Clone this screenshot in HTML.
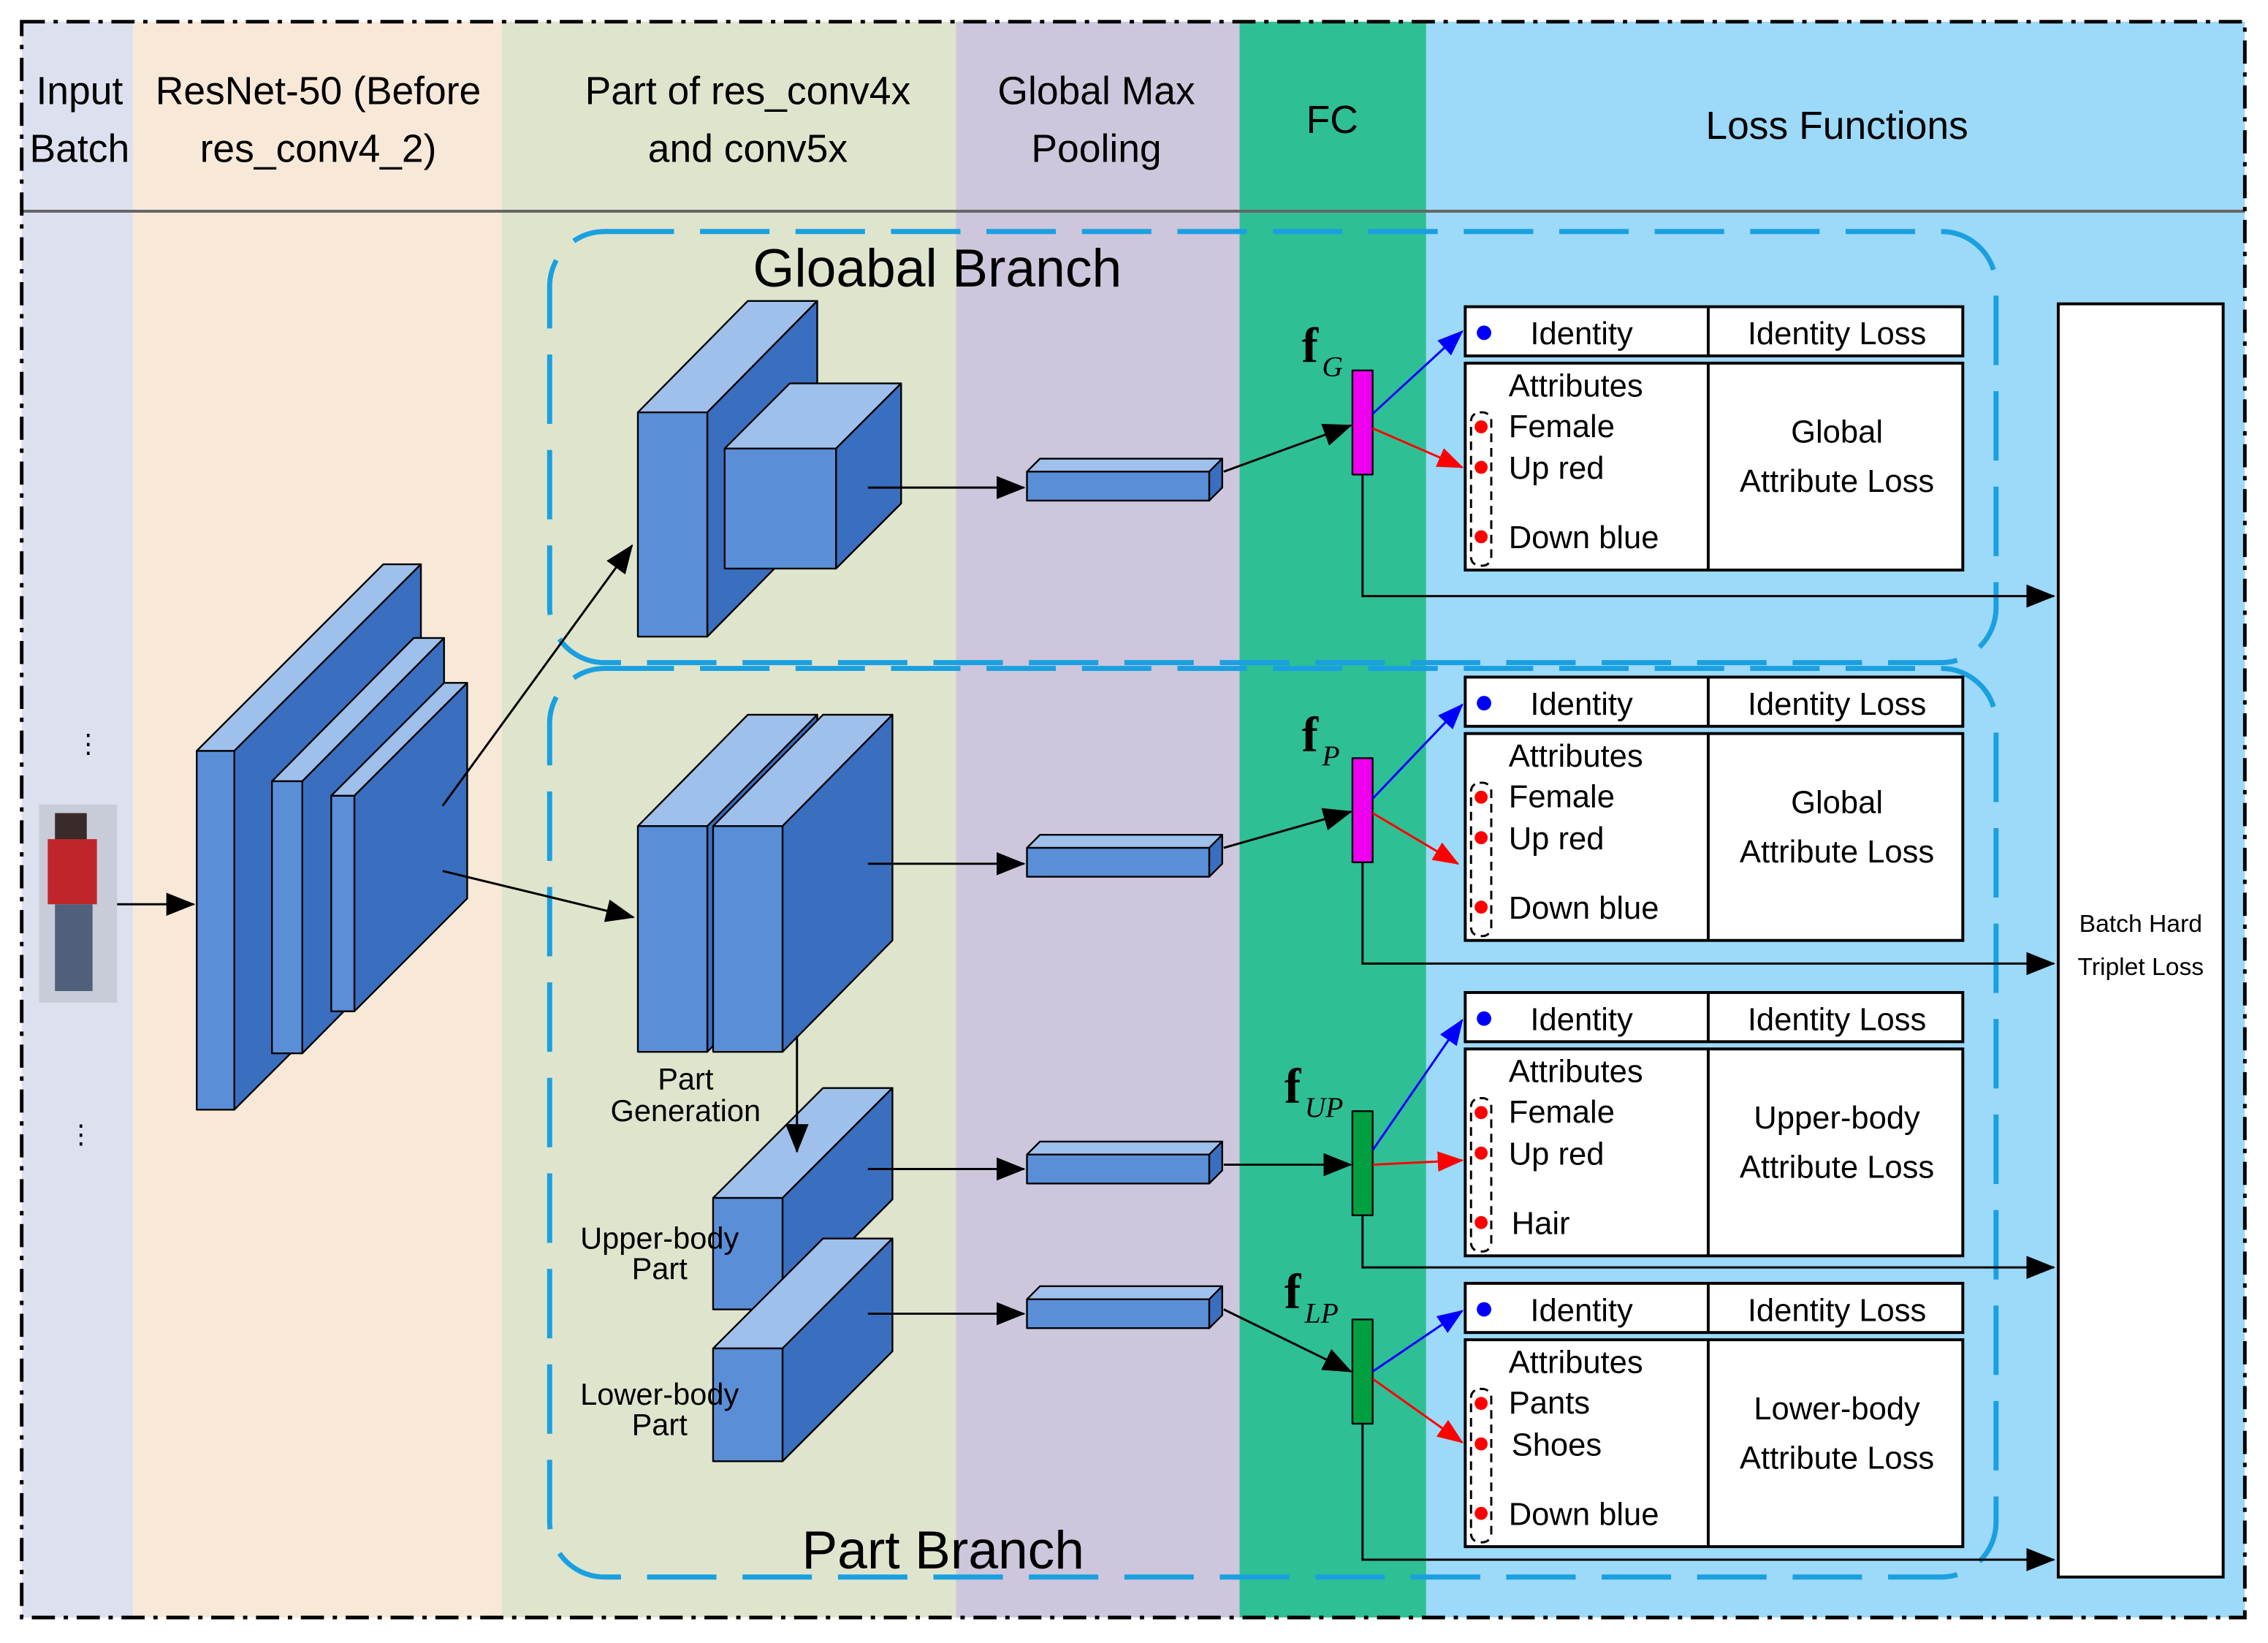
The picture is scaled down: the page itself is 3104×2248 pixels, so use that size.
<!DOCTYPE html>
<html><head><meta charset="utf-8"><style>html,body{margin:0;padding:0;background:#fff}svg{display:block}</style></head><body>
<svg width="3104" height="2248" viewBox="0 0 1568 1135.6" preserveAspectRatio="none" xmlns="http://www.w3.org/2000/svg" font-family="Liberation Sans, sans-serif">
<defs>
<marker id="ab" markerWidth="10" markerHeight="10" refX="9" refY="5" orient="auto" markerUnits="userSpaceOnUse"><path d="M0,0 L10,5 L0,10 z" fill="#000"/></marker>
<marker id="abig" markerWidth="20" markerHeight="16" refX="19" refY="8" orient="auto" markerUnits="userSpaceOnUse"><path d="M0,0 L20,8 L0,16 z" fill="#000"/></marker>
<marker id="ablu" markerWidth="18" markerHeight="14" refX="17" refY="7" orient="auto" markerUnits="userSpaceOnUse"><path d="M0,0 L18,7 L0,14 z" fill="#00f"/></marker>
<marker id="ared" markerWidth="18" markerHeight="14" refX="17" refY="7" orient="auto" markerUnits="userSpaceOnUse"><path d="M0,0 L18,7 L0,14 z" fill="#f00"/></marker>
</defs>
<rect x="15" y="15" width="77" height="1103" fill="#dde0ef"/>
<rect x="92" y="15" width="255" height="1103" fill="#f8e8d8"/>
<rect x="347" y="15" width="314" height="1103" fill="#dfe5cd"/>
<rect x="661" y="15" width="196" height="1103" fill="#cdc6dc"/>
<rect x="857" y="15" width="129" height="1103" fill="#2fbf94"/>
<rect x="986" y="15" width="566" height="1103" fill="#9dd9f8"/>
<line x1="15" y1="146" x2="1552" y2="146" stroke="#666" stroke-width="2"/>
<rect x="15" y="15" width="1537" height="1103" fill="none" stroke="#000" stroke-width="2.5" stroke-dasharray="16,6,3,6"/>
<g font-size="27" fill="#000" text-anchor="middle">
<text x="55" y="72">Input</text><text x="55" y="112">Batch</text>
<text x="220" y="72">ResNet-50 (Before</text><text x="220" y="112">res_conv4_2)</text>
<text x="517" y="72">Part of res_conv4x</text><text x="517" y="112">and conv5x</text>
<text x="758" y="72">Global Max</text><text x="758" y="112">Pooling</text>
<text x="921" y="92">FC</text>
<text x="1270" y="96">Loss Functions</text>
</g>
<g fill="none" stroke="#1aa0e0" stroke-width="3.5" stroke-dasharray="48,18">
<rect x="380" y="160" width="1000" height="298" rx="38"/>
<rect x="380" y="462" width="1000" height="628" rx="38"/>
</g>
<text x="648" y="198" font-size="37" text-anchor="middle">Gloabal Branch</text>
<text x="652" y="1084" font-size="37" text-anchor="middle">Part Branch</text>
<!-- person -->
<rect x="27" y="556" width="54" height="137" fill="#c8ccd8"/>
<rect x="38" y="562" width="22" height="20" fill="#3a2a2a"/>
<rect x="33" y="580" width="34" height="45" fill="#c0252a"/>
<rect x="38" y="625" width="26" height="60" fill="#50607a"/>
<g stroke="#000" stroke-width="1.2" stroke-linejoin="round">
<!-- resnet -->
<polygon points="136,519 265,390 291,390 162,519" fill="#a0c0ec"/><polygon points="162,519 291,390 291,638 162,767" fill="#3a6fc0"/><rect x="136" y="519" width="26" height="248" fill="#5a8fd8"/>
<polygon points="188,540 286,441 307,441 209,540" fill="#a0c0ec"/><polygon points="209,540 307,441 307,629 209,728" fill="#3a6fc0"/><rect x="188" y="540" width="21" height="188" fill="#5a8fd8"/>
<polygon points="229,550 307,472 323,472 245,550" fill="#a0c0ec"/><polygon points="245,550 323,472 323,621 245,699" fill="#3a6fc0"/><rect x="229" y="550" width="16" height="149" fill="#5a8fd8"/>
<!-- global -->
<polygon points="441,285 517,208 565,208 489,285" fill="#a0c0ec"/><polygon points="489,285 565,208 565,363 489,440" fill="#3a6fc0"/><rect x="441" y="285" width="48" height="155" fill="#5a8fd8"/>
<polygon points="501,310 546,265 623,265 578,310" fill="#a0c0ec"/><polygon points="578,310 623,265 623,348 578,393" fill="#3a6fc0"/><rect x="501" y="310" width="77" height="83" fill="#5a8fd8"/>
<!-- part -->
<polygon points="441,571 517,494 565,494 489,571" fill="#a0c0ec"/><polygon points="489,571 565,494 565,650 489,727" fill="#3a6fc0"/><rect x="441" y="571" width="48" height="156" fill="#5a8fd8"/>
<polygon points="493,571 569,494 617,494 541,571" fill="#a0c0ec"/><polygon points="541,571 617,494 617,650 541,727" fill="#3a6fc0"/><rect x="493" y="571" width="48" height="156" fill="#5a8fd8"/>
<polygon points="493,828 569,752 617,752 541,828" fill="#a0c0ec"/><polygon points="541,828 617,752 617,829 541,905" fill="#3a6fc0"/><rect x="493" y="828" width="48" height="77" fill="#5a8fd8"/>
<polygon points="493,932 569,856 617,856 541,932" fill="#a0c0ec"/><polygon points="541,932 617,856 617,934 541,1010" fill="#3a6fc0"/><rect x="493" y="932" width="48" height="78" fill="#5a8fd8"/>
<!-- bars -->
<g id="bars">
<polygon points="710,326 719,317 845,317 836,326" fill="#a0c0ec"/><polygon points="836,326 845,317 845,337 836,346" fill="#3a6fc0"/><rect x="710" y="326" width="126" height="20" fill="#5a8fd8"/>
<polygon points="710,586 719,577 845,577 836,586" fill="#a0c0ec"/><polygon points="836,586 845,577 845,597 836,606" fill="#3a6fc0"/><rect x="710" y="586" width="126" height="20" fill="#5a8fd8"/>
<polygon points="710,798 719,789 845,789 836,798" fill="#a0c0ec"/><polygon points="836,798 845,789 845,809 836,818" fill="#3a6fc0"/><rect x="710" y="798" width="126" height="20" fill="#5a8fd8"/>
<polygon points="710,898 719,889 845,889 836,898" fill="#a0c0ec"/><polygon points="836,898 845,889 845,909 836,918" fill="#3a6fc0"/><rect x="710" y="898" width="126" height="20" fill="#5a8fd8"/>
</g>
<rect x="935" y="256" width="14" height="72" fill="#ee00ee"/>
<rect x="935" y="524" width="14" height="72" fill="#ee00ee"/>
<rect x="935" y="768" width="14" height="72" fill="#00a040"/>
<rect x="935" y="912" width="14" height="72" fill="#00a040"/>
</g>
<g font-size="21" text-anchor="middle">
<text x="474" y="753">Part</text><text x="474" y="775">Generation</text>
<text x="456" y="863">Upper-body</text><text x="456" y="884">Part</text>
<text x="456" y="971">Lower-body</text><text x="456" y="992">Part</text>
</g>
<!-- black arrows -->
<g stroke="#000" stroke-width="1.5" fill="none" marker-end="url(#abig)">
<line x1="81" y1="625" x2="134" y2="625"/>
<line x1="306" y1="557" x2="437" y2="377"/>
<line x1="306" y1="602" x2="438" y2="634"/>
<line x1="600" y1="337" x2="708" y2="337"/>
<line x1="600" y1="597" x2="708" y2="597"/>
<line x1="600" y1="808" x2="708" y2="808"/>
<line x1="600" y1="908" x2="708" y2="908"/>
<line x1="551" y1="716" x2="551" y2="796"/>
<line x1="846" y1="326" x2="934" y2="294"/>
<line x1="846" y1="586" x2="934" y2="561"/>
<line x1="846" y1="805" x2="934" y2="805"/>
<line x1="846" y1="905" x2="934" y2="948"/>
<polyline points="942,328 942,412 1420,412"/>
<polyline points="942,596 942,666 1420,666"/>
<polyline points="942,840 942,876 1420,876"/>
<polyline points="942,984 942,1078 1420,1078"/>
</g>
<g stroke-width="1.5" fill="none">
<line x1="949" y1="286" x2="1011" y2="229" stroke="#00f" marker-end="url(#ablu)"/>
<line x1="949" y1="296" x2="1011" y2="323" stroke="#f00" marker-end="url(#ared)"/>
<line x1="949" y1="552" x2="1011" y2="487" stroke="#00f" marker-end="url(#ablu)"/>
<line x1="949" y1="562" x2="1008" y2="597" stroke="#f00" marker-end="url(#ared)"/>
<line x1="949" y1="795" x2="1011" y2="705" stroke="#00f" marker-end="url(#ablu)"/>
<line x1="949" y1="805" x2="1011" y2="802" stroke="#f00" marker-end="url(#ared)"/>
<line x1="949" y1="948" x2="1011" y2="906" stroke="#00f" marker-end="url(#ablu)"/>
<line x1="949" y1="953" x2="1011" y2="997" stroke="#f00" marker-end="url(#ared)"/>
</g>
<!-- fc labels -->
<g font-family="Liberation Serif, serif">
<text x="900" y="250" font-size="34" font-weight="bold">f</text><text x="914" y="260" font-size="20" font-style="italic">G</text>
<text x="900" y="519" font-size="34" font-weight="bold">f</text><text x="914" y="529" font-size="20" font-style="italic">P</text>
<text x="888" y="762" font-size="34" font-weight="bold">f</text><text x="902" y="772" font-size="20" font-style="italic">UP</text>
<text x="888" y="904" font-size="34" font-weight="bold">f</text><text x="902" y="914" font-size="20" font-style="italic">LP</text>
</g>
<!-- tables -->
<g font-size="22">
<g transform="translate(0,0)">
<rect x="1013" y="212" width="344" height="34" fill="#fff" stroke="#000" stroke-width="2"/><line x1="1181" y1="212" x2="1181" y2="246" stroke="#000" stroke-width="2"/>
<circle cx="1026" cy="230" r="5" fill="#00f"/><text x="1058" y="238">Identity</text><text x="1270" y="238" text-anchor="middle">Identity Loss</text>
<rect x="1013" y="251" width="344" height="143" fill="#fff" stroke="#000" stroke-width="2"/><line x1="1181" y1="251" x2="1181" y2="394" stroke="#000" stroke-width="2"/>
<text x="1043" y="274">Attributes</text><text x="1043" y="302">Female</text><text x="1043" y="331">Up red</text><text x="1043" y="379">Down blue</text>
<text x="1270" y="306" text-anchor="middle">Global</text><text x="1270" y="340" text-anchor="middle">Attribute Loss</text>
<rect x="1017" y="285" width="14" height="106" rx="6" fill="none" stroke="#000" stroke-width="1.5" stroke-dasharray="6,4"/>
<circle cx="1024" cy="295" r="4.5" fill="#f00"/><circle cx="1024" cy="323" r="4.5" fill="#f00"/><circle cx="1024" cy="371" r="4.5" fill="#f00"/>
</g>
<g transform="translate(0,256)">
<rect x="1013" y="212" width="344" height="34" fill="#fff" stroke="#000" stroke-width="2"/><line x1="1181" y1="212" x2="1181" y2="246" stroke="#000" stroke-width="2"/>
<circle cx="1026" cy="230" r="5" fill="#00f"/><text x="1058" y="238">Identity</text><text x="1270" y="238" text-anchor="middle">Identity Loss</text>
<rect x="1013" y="251" width="344" height="143" fill="#fff" stroke="#000" stroke-width="2"/><line x1="1181" y1="251" x2="1181" y2="394" stroke="#000" stroke-width="2"/>
<text x="1043" y="274">Attributes</text><text x="1043" y="302">Female</text><text x="1043" y="331">Up red</text><text x="1043" y="379">Down blue</text>
<text x="1270" y="306" text-anchor="middle">Global</text><text x="1270" y="340" text-anchor="middle">Attribute Loss</text>
<rect x="1017" y="285" width="14" height="106" rx="6" fill="none" stroke="#000" stroke-width="1.5" stroke-dasharray="6,4"/>
<circle cx="1024" cy="295" r="4.5" fill="#f00"/><circle cx="1024" cy="323" r="4.5" fill="#f00"/><circle cx="1024" cy="371" r="4.5" fill="#f00"/>
</g>
<g transform="translate(0,474)">
<rect x="1013" y="212" width="344" height="34" fill="#fff" stroke="#000" stroke-width="2"/><line x1="1181" y1="212" x2="1181" y2="246" stroke="#000" stroke-width="2"/>
<circle cx="1026" cy="230" r="5" fill="#00f"/><text x="1058" y="238">Identity</text><text x="1270" y="238" text-anchor="middle">Identity Loss</text>
<rect x="1013" y="251" width="344" height="143" fill="#fff" stroke="#000" stroke-width="2"/><line x1="1181" y1="251" x2="1181" y2="394" stroke="#000" stroke-width="2"/>
<text x="1043" y="274">Attributes</text><text x="1043" y="302">Female</text><text x="1043" y="331">Up red</text><text x="1045" y="379">Hair</text>
<text x="1270" y="306" text-anchor="middle">Upper-body</text><text x="1270" y="340" text-anchor="middle">Attribute Loss</text>
<rect x="1017" y="285" width="14" height="106" rx="6" fill="none" stroke="#000" stroke-width="1.5" stroke-dasharray="6,4"/>
<circle cx="1024" cy="295" r="4.5" fill="#f00"/><circle cx="1024" cy="323" r="4.5" fill="#f00"/><circle cx="1024" cy="371" r="4.5" fill="#f00"/>
</g>
<g transform="translate(0,675)">
<rect x="1013" y="212" width="344" height="34" fill="#fff" stroke="#000" stroke-width="2"/><line x1="1181" y1="212" x2="1181" y2="246" stroke="#000" stroke-width="2"/>
<circle cx="1026" cy="230" r="5" fill="#00f"/><text x="1058" y="238">Identity</text><text x="1270" y="238" text-anchor="middle">Identity Loss</text>
<rect x="1013" y="251" width="344" height="143" fill="#fff" stroke="#000" stroke-width="2"/><line x1="1181" y1="251" x2="1181" y2="394" stroke="#000" stroke-width="2"/>
<text x="1043" y="274">Attributes</text><text x="1043" y="302">Pants</text><text x="1045" y="331">Shoes</text><text x="1043" y="379">Down blue</text>
<text x="1270" y="306" text-anchor="middle">Lower-body</text><text x="1270" y="340" text-anchor="middle">Attribute Loss</text>
<rect x="1017" y="285" width="14" height="106" rx="6" fill="none" stroke="#000" stroke-width="1.5" stroke-dasharray="6,4"/>
<circle cx="1024" cy="295" r="4.5" fill="#f00"/><circle cx="1024" cy="323" r="4.5" fill="#f00"/><circle cx="1024" cy="371" r="4.5" fill="#f00"/>
</g>
</g>
<rect x="1423" y="210" width="114" height="880" fill="#fff" stroke="#000" stroke-width="2"/>
<text x="1480" y="644" font-size="17" text-anchor="middle">Batch Hard</text>
<text x="1480" y="674" font-size="17" text-anchor="middle">Triplet Loss</text>
<g fill="#000"><text x="52" y="520" font-size="18">⋮</text><text x="47" y="790" font-size="18">⋮</text></g>
</svg>
</body></html>
